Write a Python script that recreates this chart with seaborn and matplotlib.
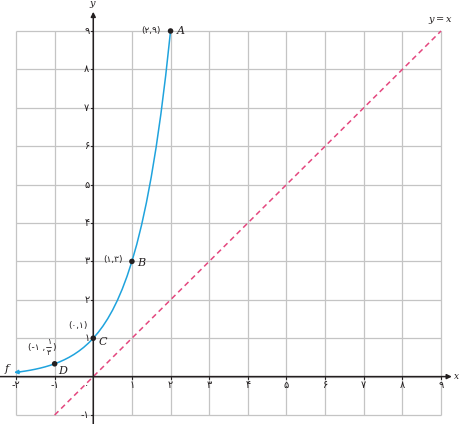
import matplotlib
matplotlib.use("Agg")
import matplotlib.pyplot as plt
import seaborn as sns
import pandas as pd

# curve values of f(x) = 3^x
curve_x = [-2, -1.875, -1.75, -1.625, -1.5, -1.375, -1.25, -1.125, -1, -0.875, -0.75, -0.625,
           -0.5, -0.375, -0.25, -0.125, 0, 0.125, 0.25, 0.375, 0.5, 0.625, 0.75, 0.875,
           1, 1.125, 1.25, 1.375, 1.5, 1.625, 1.75, 1.875, 2]
curve_y = [0.1111, 0.1275, 0.1462, 0.1677, 0.1925, 0.2208, 0.2533, 0.2906, 0.3333, 0.3824,
           0.4387, 0.5033, 0.5774, 0.6624, 0.7598, 0.8717, 1, 1.1472, 1.3161, 1.5098, 1.7321,
           1.9870, 2.2795, 2.6150, 3, 3.4416, 3.9482, 4.5294, 5.1962, 5.9611, 6.8385, 7.8452, 9]

# marked points
pt_names = ["A", "B", "C", "D"]
pt_x = [2, 1, 0, -1]
pt_y = [9, 3, 1, 1 / 3]

# y = x line
diag_x = [-1, 9]
diag_y = [-1, 9]

grid_x = list(range(-2, 10))
grid_y = list(range(-1, 10))
fa = "۰۱۲۳۴۵۶۷۸۹"
def fa_num(n):
    return ("-" if n < 0 else "") + "".join(fa[int(c)] for c in str(abs(n)))

sns.set_style("white")
plt.rcParams["font.family"] = ["DejaVu Sans"]
plt.rcParams["mathtext.fontset"] = "dejavuserif"

fig = plt.figure(figsize=(4.62, 4.24), dpi=100)
ax = fig.add_axes([0, 0, 1, 1])
ax.set_xlim(-2.414, 9.543)
ax.set_ylim(-1.234, 9.807)
ax.axis("off")

gc = "#c4c4c4"
ax.vlines(grid_x, -1, 9, color=gc, lw=0.9, zorder=0)
ax.hlines(grid_y, -2, 9, color=gc, lw=0.9, zorder=0)

ink = "#231f20"
ax.annotate("", xy=(9.28, 0), xytext=(-2.414, 0),
            arrowprops=dict(arrowstyle="-|>", color=ink, lw=1.1, mutation_scale=7, shrinkA=0, shrinkB=0))
ax.annotate("", xy=(0, 9.50), xytext=(0, -1.234),
            arrowprops=dict(arrowstyle="-|>", color=ink, lw=1.1, mutation_scale=7, shrinkA=0, shrinkB=0))
ax.text(9.40, 0.0, "$x$", fontsize=6.5, color=ink, ha="center", va="center")
ax.text(0.0, 9.70, "$y$", fontsize=7, color=ink, ha="center", va="center")

# ticks and labels
tk = dict(fontsize=7, color=ink)
for v in grid_x:
    if v == 0:
        continue
    ax.plot([v, v], [-0.07, 0.0], color=ink, lw=0.8)
    ax.text(v, -0.21, fa_num(v), ha="center", va="center", **tk)
for v in grid_y:
    if v == 0:
        continue
    ax.plot([-0.07, 0.0], [v, v], color=ink, lw=0.8)
    ax.text(-0.1, v, fa_num(v), ha="right", va="center", **tk)
ax.text(-0.1, -0.22, fa[0], ha="right", va="center", **tk)

# y = x dashed line
sns.lineplot(x=diag_x, y=diag_y, ax=ax, color="#e4477f", lw=1.1, linestyle=(0, (3.5, 2.5)), zorder=2)

# exponential curve
blue = "#1fa3dd"
sns.lineplot(x=curve_x, y=curve_y, ax=ax, color=blue, lw=1.1, sort=False, zorder=3)
ax.annotate("", xy=(-2.05, curve_y[0] - 0.004), xytext=(-1.9, curve_y[0] + 0.012),
            arrowprops=dict(arrowstyle="-|>", color=blue, lw=1.0, mutation_scale=6, shrinkA=0, shrinkB=0))

pts = pd.DataFrame({"x": pt_x, "y": pt_y, "name": pt_names})
sns.scatterplot(data=pts, x="x", y="y", ax=ax, color=ink, s=16, edgecolor="none", zorder=4, legend=False)

lbl = dict(fontsize=6.5, color=ink)
ax.text(1.75, 9.0, "(" + fa[2] + "," + fa[9] + ")", ha="right", va="center", **lbl)
ax.text(2.15, 9.02, "$A$", fontsize=8, color=ink, ha="left", va="center")
ax.text(0.77, 3.05, "(" + fa[1] + "," + fa[3] + ")", ha="right", va="center", **lbl)
ax.text(1.12, 2.98, "$B$", fontsize=8, color=ink, ha="left", va="center")
ax.text(-0.4, 1.32, "(" + fa[0] + "," + fa[1] + ")", ha="center", va="center", **lbl)
ax.text(0.12, 0.92, "$C$", fontsize=8, color=ink, ha="left", va="center")
# (-1 , 1/3) with a stacked fraction
ax.text(-1.25, 0.77, "(-" + fa[1] + " ,", ha="right", va="center", **lbl)
ax.text(-1.15, 0.92, fa[1], ha="center", va="center", fontsize=5.5, color=ink)
ax.text(-1.15, 0.62, fa[3], ha="center", va="center", fontsize=5.5, color=ink)
ax.plot([-1.215, -1.085], [0.77, 0.77], color=ink, lw=0.6)
ax.text(-1.06, 0.77, ")", ha="left", va="center", **lbl)
ax.text(-0.92, 0.18, "$D$", fontsize=8, color=ink, ha="left", va="center")
ax.text(-2.2, 0.2, "$f$", fontsize=8, color=ink, ha="center", va="center")
ax.text(8.98, 9.28, "$y = x$", fontsize=7, color=ink, ha="center", va="center")

fig.savefig("out.png", dpi=100)
